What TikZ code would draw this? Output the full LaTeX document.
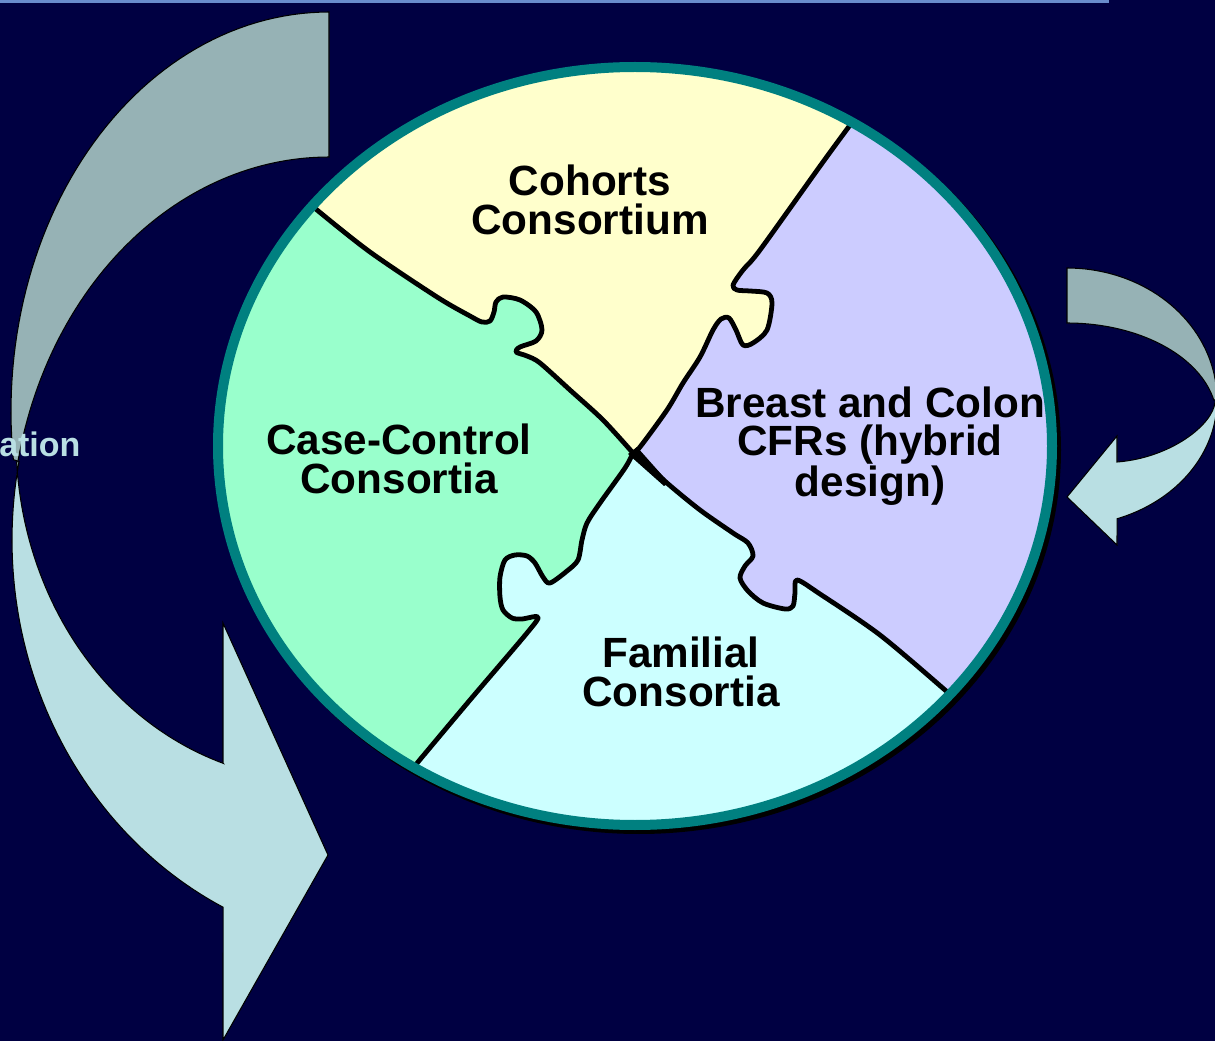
\documentclass[tikz,border=0pt]{standalone}
\usepackage{fontspec}
\setmainfont{Liberation Sans}
\definecolor{bgnavy}{RGB}{0,0,66}
\definecolor{ringteal}{RGB}{0,128,128}
\definecolor{pyellow}{RGB}{255,255,204}
\definecolor{ppurple}{RGB}{204,204,255}
\definecolor{pgreen}{RGB}{153,255,204}
\definecolor{pcyan}{RGB}{204,255,255}
\definecolor{arrowback}{RGB}{150,178,181}
\definecolor{arrowfront}{RGB}{185,223,227}
\definecolor{toplinec}{RGB}{105,140,205}
\tikzset{
  piece line/.style={line width=3.6pt, line join=round, line cap=round},
  arrow body/.style={draw=black, line width=0.8pt, line join=miter},
  label text/.style={font=\fontsize{31.7}{28.7}\selectfont\bfseries, align=center, text=black, inner sep=0pt},
  ULc/.style={insert path={-- plot[smooth,tension=0.5] coordinates {(310,203) (317,210) (370,252) (437,297) (470,316) (482,322) (490,321) (494,312) (496,302) (503,297) (520,300) (536,312) (542,330) (536,341) (520,347) (516,352) (527,356) (540,363) (570,390) (603,420) (633,453)}}},
  URc/.style={insert path={-- plot[smooth,tension=0.5] coordinates {(633,453) (640,447) (667,410) (683,383) (700,357) (713,330) (721,319) (729,318) (736,330) (743,345) (753,343) (767,330) (772,303) (767,293) (750,291) (737,290) (733,285) (743,270) (760,250) (823,162) (856,117)}}},
  LRc/.style={insert path={-- plot[smooth,tension=0.5] coordinates {(952,697) (945,690) (880,635) (820,594) (797,580) (795,593) (793,606) (785,609) (763,603) (748,591) (740,578) (745,566) (753,556) (748,543) (733,533) (700,510) (667,483) (645,462) (633,453)}}},
  LLc/.style={insert path={-- plot[smooth,tension=0.5] coordinates {(633,453) (625,468) (600,503) (587,523) (582,540) (578,560) (567,571) (550,583) (543,577) (535,563) (527,556) (515,555) (505,560) (500,577) (500,597) (503,610) (512,618) (522,619) (538,617) (527,633) (470,700) (418,762) (412,770)}}},
}
\begin{document}
\begin{tikzpicture}[x=0.75pt,y=-0.75pt]
\useasboundingbox (0,0) rectangle (1215,1041);
\clip (0,0) rectangle (1215,1041);
\fill[bgnavy] (0,0) rectangle (1215,1041);
% top border line
\draw[toplinec, line width=2.25pt] (-10,1.5) -- (1107,1.5) -- (1107,-10);

% left curved arrow
\filldraw[arrow body, fill=arrowback]
  plot[domain=90:187, samples=60] ({329+318*cos(\x)},{411-399*sin(\x)})
  -- plot[domain=168:90, samples=60] ({329+318*cos(\x)},{541-384*sin(\x)})
  -- cycle;
\filldraw[arrow body, fill=arrowfront]
  plot[domain=169:243.6, samples=60] ({392+380*cos(\x)},{540-410*sin(\x)})
  -- (223,1040) -- (328,855) -- (223,623) -- (223,763)
  -- plot[domain=252:183.7, samples=60] ({316+300*cos(\x)},{440-340*sin(\x)})
  -- cycle;

% right curved arrow
\filldraw[arrow body, fill=arrowback]
  plot[domain=90:0, samples=40] ({1067+150*cos(\x)},{400-132*sin(\x)})
  -- plot[domain=11.9:90, samples=40] ({1067+150*cos(\x)},{420-97*sin(\x)})
  -- cycle;
\filldraw[arrow body, fill=arrowfront]
  plot[domain=0:-70.5, samples=40] ({1067+150*cos(\x)},{400-126*sin(\x)})
  -- (1117,545) -- (1067,497) -- (1117,436) -- (1117,462)
  .. controls (1170,458) and (1213,425) .. (1215,402) -- cycle;

% shadow of the disc
\fill[black] (639,450) ellipse [x radius=316.5pt, y radius=288pt];

% puzzle pieces
\begin{scope}
  \clip (635,446) ellipse [x radius=312.75pt, y radius=284.25pt];
  \fill[pgreen] (0,0) rectangle (1215,1041);
  \fill[pyellow] (250,150) [ULc] [URc] -- (1000,0) -- (300,0) -- cycle;
  \fill[ppurple] (633,453) [URc] -- (1000,0) -- (1215,0) -- (1215,900) [LRc] -- cycle;
  \fill[pcyan] (1100,900) [LRc] [LLc] -- (350,900) -- cycle;
  \fill[black] (628,454) -- (637,447) -- (669,483) -- (664,486) -- cycle;
  \draw[piece line] (310,203) [ULc];
  \draw[piece line] (633,453) [URc];
  \draw[piece line] (952,697) [LRc];
  \draw[piece line] (633,453) [LLc];
\end{scope}
% teal ring
\draw[ringteal, line width=7.5pt] (635,446) ellipse [x radius=312.75pt, y radius=284.25pt];

% labels
\node[label text] (cohorts) at (590,200) {Cohorts\\Consortium};
\node[label text] (casecontrol) at (399,459) {Case-Control\\Consortia};
\node[label text] (cfrs) at (870,446) {Breast and Colon\\CFRs (hybrid\\design)};
\node[label text] (familial) at (681,672) {Familial\\Consortia};
\node[anchor=base west, inner sep=0pt, text=arrowfront, font=\fontsize{25.5}{28}\selectfont\bfseries] (ation) at (-1,457) {ation};
\end{tikzpicture}
\end{document}
